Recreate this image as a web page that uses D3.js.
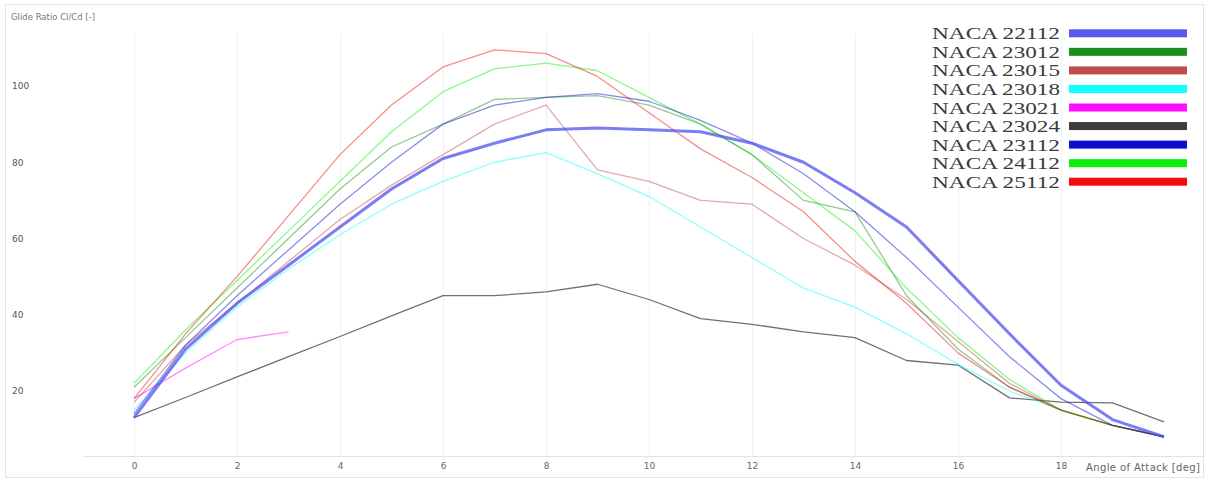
<!DOCTYPE html>
<html><head><meta charset="utf-8">
<script src="https://cdn.jsdelivr.net/npm/d3@7"></script>
<style>
html,body{margin:0;padding:0;background:#fff;overflow:hidden;}
svg{display:block;}
</style></head>
<body>
<svg id="chart" width="1207" height="480"></svg>
<script>
// ---- data ----
const angles = [0,1,2,3,4,5,6,7,8,9,10,11,12,13,14,15,16,17,18,19,20];
const seriesNames = ["NACA 22112","NACA 23012","NACA 23015","NACA 23018","NACA 23021","NACA 23024","NACA 23112","NACA 24112","NACA 25112"];
const seriesColors = ["#5050f0","#118811","#c04040","#00ffff","#ff00ff","#333333","#0000cc","#00ee00","#ee0000"];
const naca22112 = [13,31,43,53,63,73,81,85,88.5,89,88.5,88,85,80,72,63,49,35,21.5,12.5,8];
const naca23012 = [21,34,47,60,73,84,90,96.5,97,97.5,95,90,82,70,67,45,31,21,15,11,8];
const naca23015 = [17,32,43,54,65,74,82,90,95,78,75,70,69,60,53,44,33,22,15,11,8];
const naca23018 = [15,30,42,52,61,69,75,80,82.5,77,71,63,55,47,42,35,27,20,15,11,8];
const naca23021 = [18,26,33.5,35.5];
const naca23024 = [13,18.3,23.7,29,34.3,39.7,45,45,46,48,44,39,37.5,35.5,34,28,26.8,18.2,17.1,16.9,11.9];
const naca23112 = [14,32,45,57,69,80,90,95,97,98,96,91,85,77,67,55,42,29,18,11,8];
const naca24112 = [22,36,49,62,75,88,98.5,104.5,106,104,97,90,82,72,62,47,34,23,15,11,8];
const naca25112 = [18,35,50,66,82,95,105,109.5,108.5,102.5,93,83.5,76,67,54,43,30,21,15,11,8];
const seriesValues = [naca22112,naca23012,naca23015,naca23018,naca23021,naca23024,naca23112,naca24112,naca25112];
const xTicks = [0,2,4,6,8,10,12,14,16,18];
const yTicks = [20,40,60,80,100];
const yTitle = "Glide Ratio Cl/Cd [-]";
const xTitle = "Angle of Attack [deg]";

// ---- drawing ----
const svg = d3.select("#chart");
const W = 1207, H = 480;
const x = d3.scaleLinear().domain([0,20]).range([134,1164]);
const y = d3.scaleLinear().domain([0,120]).range([467.25,9.75]);
const axisY = 456.5;

// outer frame
svg.append("rect").attr("x",5.5).attr("y",4.5).attr("width",W-9).attr("height",H-7)
  .attr("fill","none").attr("stroke","#e4e4e4").attr("stroke-width",1);

// vertical gridlines
svg.append("g").selectAll("line").data(xTicks).join("line")
  .attr("x1",d=>Math.round(x(d))+0.5).attr("x2",d=>Math.round(x(d))+0.5)
  .attr("y1",33).attr("y2",axisY)
  .attr("stroke","#f1f1f1").attr("stroke-width",1);

// x axis line
svg.append("line").attr("x1",83).attr("x2",W-3).attr("y1",axisY).attr("y2",axisY)
  .attr("stroke","#e2e2e2").attr("stroke-width",1);

// x tick labels via axis
const xAxis = d3.axisBottom(x).tickValues(xTicks).tickSize(0).tickPadding(0).tickFormat(d3.format("d"));
const gx = svg.append("g").attr("transform",`translate(0,${axisY+6})`).call(xAxis);
gx.select(".domain").remove();
gx.selectAll("text").attr("font-family","Verdana, DejaVu Sans, sans-serif").attr("font-size",9).attr("fill","#666");

// x title
svg.append("text").attr("x",1086).attr("y",471).text(xTitle)
  .attr("font-family","Verdana, DejaVu Sans, sans-serif").attr("font-size",10).attr("fill","#666")
  .attr("textLength",114).attr("lengthAdjust","spacing");

// y tick labels via axis
const yAxis = d3.axisLeft(y).tickValues(yTicks).tickSize(0).tickPadding(0).tickFormat(d3.format("d"));
const gy = svg.append("g").attr("transform","translate(12,0)").call(yAxis);
gy.select(".domain").remove();
gy.selectAll("text").attr("text-anchor","start").attr("font-family","Verdana, DejaVu Sans, sans-serif")
  .attr("font-size",9).attr("fill","#555");

// y title
svg.append("text").attr("x",11).attr("y",20).text(yTitle)
  .attr("font-family","Verdana, DejaVu Sans, sans-serif").attr("font-size",8.5).attr("fill","#777");

// lines
const line = d3.line().x((d,i)=>x(angles[i])).y(d=>y(d));
const order = [5,3,4,2,1,7,8,6,0];
order.forEach(k=>{
  svg.append("path").datum(seriesValues[k])
    .attr("d",line)
    .attr("fill","none")
    .attr("stroke",seriesColors[k])
    .attr("stroke-width",k===0?3:1.3)
    .attr("stroke-opacity",k===0?0.75:(k===5?0.7:0.45))
    .attr("stroke-linejoin","round");
});

// legend
const leg = svg.append("g");
const rowH = 18.55, row0 = 33.3;
seriesNames.forEach((n,i)=>{
  const cy = row0 + i*rowH;
  leg.append("text").attr("x",1060).attr("y",cy+6).attr("text-anchor","end")
    .attr("font-family","Liberation Serif, Times New Roman, serif").attr("font-size",16.5)
    .attr("fill","#3a3a3a").attr("textLength",128).attr("lengthAdjust","spacingAndGlyphs").text(n);
  leg.append("rect").attr("x",1069).attr("y",cy-4).attr("width",118).attr("height",8)
    .attr("fill",seriesColors[i]).attr("fill-opacity",0.95);
});
</script>
</body></html>
